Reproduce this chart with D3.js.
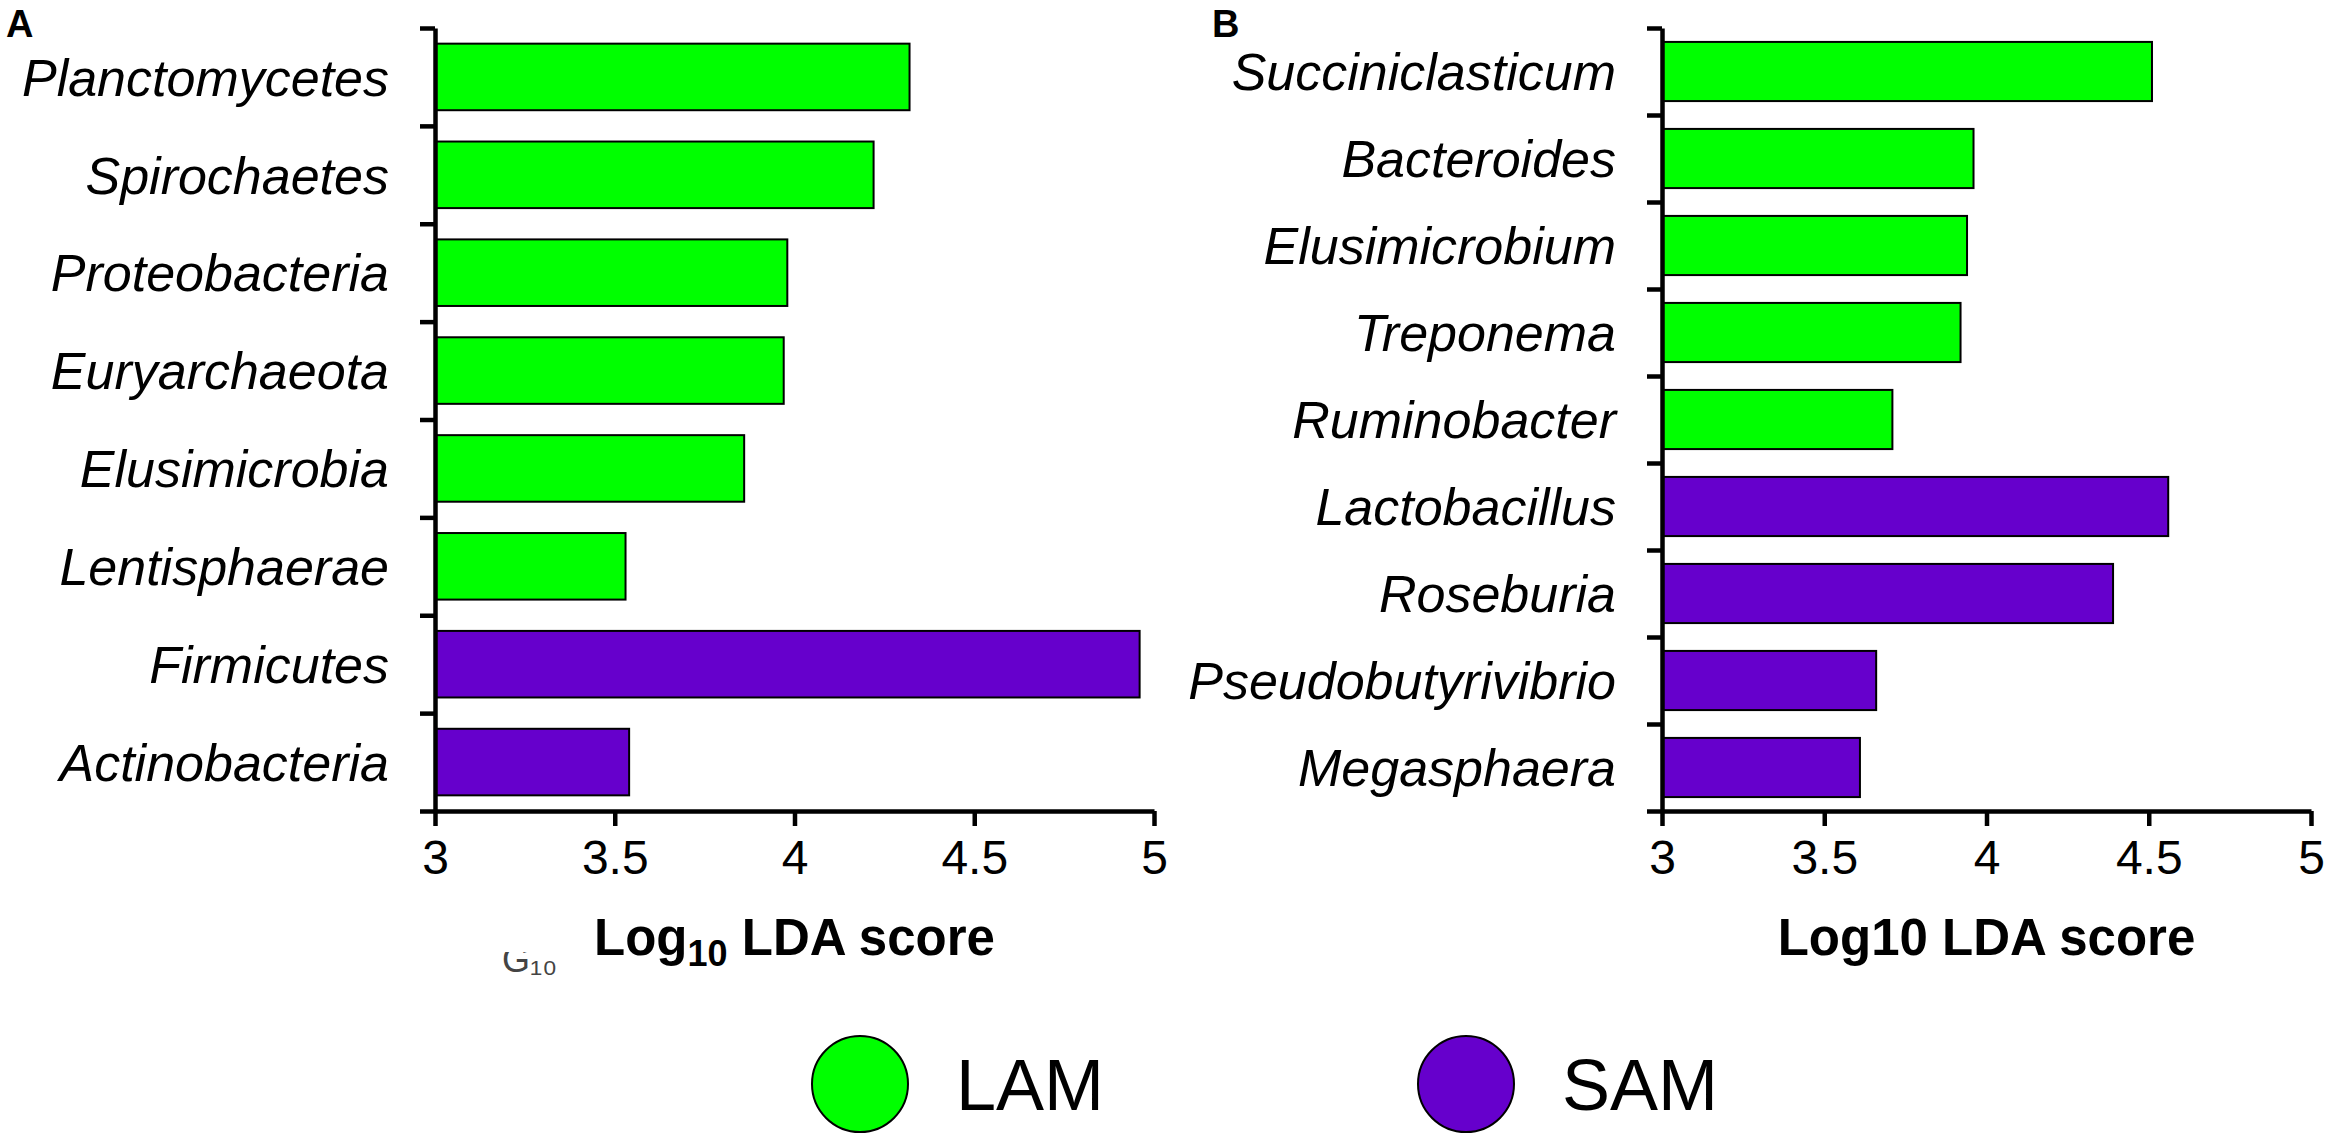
<!DOCTYPE html>
<html>
<head>
<meta charset="utf-8">
<script src="https://cdn.jsdelivr.net/npm/d3@7"></script>
<style>
  body { margin: 0; background: #fff; }
  text { font-family: "Liberation Sans", Arial, sans-serif; }
</style>
</head>
<body>
<svg id="chart" width="2333" height="1134"></svg>
<script>
// panel A - phylum level
const taxaA = ["Planctomycetes", "Spirochaetes", "Proteobacteria", "Euryarchaeota",
  "Elusimicrobia", "Lentisphaerae", "Firmicutes", "Actinobacteria"];
const scoresA = [4.32, 4.22, 3.98, 3.97, 3.86, 3.53, 4.96, 3.54];
const groupsA = ["LAM", "LAM", "LAM", "LAM", "LAM", "LAM", "SAM", "SAM"];

// panel B - genus level
const taxaB = ["Succiniclasticum", "Bacteroides", "Elusimicrobium", "Treponema",
  "Ruminobacter", "Lactobacillus", "Roseburia", "Pseudobutyrivibrio", "Megasphaera"];
const scoresB = [4.51, 3.96, 3.94, 3.92, 3.71, 4.56, 4.39, 3.66, 3.61];
const groupsB = ["LAM", "LAM", "LAM", "LAM", "LAM", "SAM", "SAM", "SAM", "SAM"];

const xTicks = [3, 3.5, 4, 4.5, 5];
const legendGroups = ["LAM", "SAM"];
const colors = { LAM: "#00ff00", SAM: "#6600cc" };

const svg = d3.select("#chart");

function drawPanel(opt) {
  const g = svg.append("g");
  const top = 28, bottom = 811;

  const x = d3.scaleLinear().domain([3, 5]).range([opt.left, opt.right]);
  const y = d3.scaleBand().domain(opt.taxa).range([top, bottom]).paddingInner(0.32).paddingOuter(0.16);
  const yTick = d3.scaleLinear().domain([0, opt.taxa.length]).range([top, bottom]);

  // bars
  g.selectAll("rect.bar")
    .data(opt.taxa)
    .enter()
    .append("rect")
    .attr("class", "bar")
    .attr("x", x(3))
    .attr("y", d => y(d))
    .attr("width", (d, i) => x(opt.scores[i]) - x(3))
    .attr("height", y.bandwidth())
    .attr("fill", (d, i) => colors[opt.groups[i]])
    .attr("stroke", "#000")
    .attr("stroke-width", 2);

  // y axis, ticks between categories
  const yAxis = g.append("g")
    .attr("transform", `translate(${opt.left},0)`)
    .call(d3.axisLeft(yTick).tickValues(d3.range(opt.taxa.length + 1)).tickFormat("").tickSize(15).tickSizeOuter(0));
  yAxis.selectAll("path, line").attr("stroke", "#000").attr("stroke-width", 4.5);

  // category labels
  g.selectAll("text.taxon")
    .data(opt.taxa)
    .enter()
    .append("text")
    .attr("class", "taxon")
    .attr("x", opt.left - 46)
    .attr("y", d => y(d) + y.bandwidth() / 2)
    .attr("dy", "0.36em")
    .attr("text-anchor", "end")
    .attr("font-style", "italic")
    .attr("font-size", 52)
    .text(d => d);

  // x axis
  const xAxis = g.append("g")
    .attr("transform", `translate(0,${bottom})`)
    .call(d3.axisBottom(x).tickValues(xTicks).tickFormat(d3.format("")).tickSize(15).tickSizeOuter(0).tickPadding(14));
  xAxis.selectAll("path, line").attr("stroke", "#000").attr("stroke-width", 4.5);
  xAxis.selectAll("text").attr("font-size", 48).attr("fill", "#000")
    .style("font-family", '"Liberation Sans", Arial, sans-serif');

  // panel letter
  g.append("text")
    .attr("x", opt.letterX)
    .attr("y", 37)
    .attr("font-weight", "bold")
    .attr("font-size", 38)
    .text(opt.letter);

  // axis title
  const title = g.append("text")
    .attr("x", (opt.left + opt.right) / 2)
    .attr("y", 955)
    .attr("text-anchor", "middle")
    .attr("font-weight", "bold")
    .attr("font-size", 51);
  if (opt.subscript) {
    title.append("tspan").text("Log");
    title.append("tspan").attr("font-size", 36).attr("dy", 11).text("10");
    title.append("tspan").attr("dy", -11).text(" LDA score");
  } else {
    title.text("Log10 LDA score");
  }
  return g;
}

drawPanel({ taxa: taxaA, scores: scoresA, groups: groupsA, left: 435, right: 1154, letter: "A", letterX: 6, subscript: true });
drawPanel({ taxa: taxaB, scores: scoresB, groups: groupsB, left: 1662, right: 2311, letter: "B", letterX: 1212, subscript: false });

// faint leftover fragment under the panel A title
svg.append("clipPath").attr("id", "frag")
  .append("rect").attr("x", 490).attr("y", 952).attr("width", 80).attr("height", 30);
svg.append("text")
  .attr("clip-path", "url(#frag)")
  .attr("x", 502).attr("y", 972)
  .attr("font-size", 36).attr("fill", "#444")
  .text("G₁₀");

// legend
const legendX = d3.scalePoint().domain(legendGroups).range([860, 1466]);
const leg = svg.append("g").selectAll("g")
  .data(legendGroups)
  .enter()
  .append("g")
  .attr("transform", d => `translate(${legendX(d)},1084)`);
leg.append("circle")
  .attr("r", 48)
  .attr("fill", d => colors[d])
  .attr("stroke", "#000")
  .attr("stroke-width", 2);
leg.append("text")
  .attr("x", 96)
  .attr("dy", "0.36em")
  .attr("font-size", 72)
  .text(d => d);
</script>
</body>
</html>
